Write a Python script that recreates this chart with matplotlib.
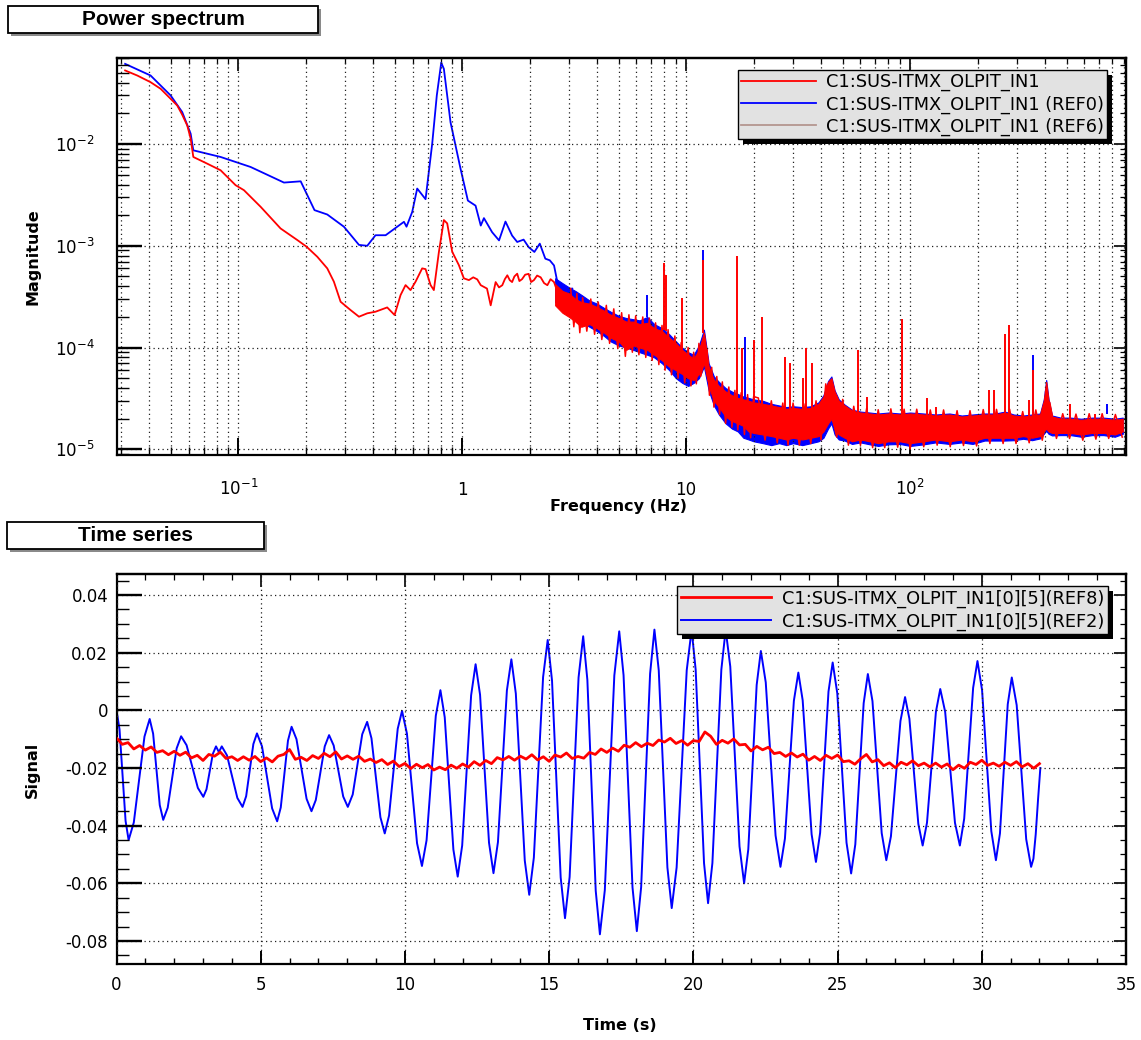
import numpy as np
import matplotlib
matplotlib.use('Agg')
import matplotlib.pyplot as plt
from matplotlib.lines import Line2D
from matplotlib.patches import Rectangle
from matplotlib.transforms import IdentityTransform
from matplotlib.ticker import (FixedLocator, LogLocator, MultipleLocator,
                               FuncFormatter, NullFormatter)

###############################################################################
# Style
###############################################################################
plt.rcParams['font.family'] = ['DejaVu Sans']
plt.rcParams['axes.unicode_minus'] = False

W, H = 1141, 1040
GRID_STYLE = dict(color='#202020', linestyle=(0, (1, 2.6)), linewidth=0.9)
REF6_COLOR = '#b49690'
LEGEND_BG = '#e2e2e2'
TITLE_FONT = ['Liberation Sans', 'DejaVu Sans']

###############################################################################
# Data: power spectrum
###############################################################################
# smooth low-frequency part of the live trace
RED_F = [0.03125, 0.0354, 0.0406, 0.0450, 0.0499, 0.0534, 0.0562, 0.0592, 0.0613, 0.0630,
         0.0727, 0.0834, 0.0973, 0.106, 0.126, 0.1545, 0.1834, 0.2018, 0.2254, 0.2497,
         0.2673, 0.2864, 0.317, 0.346, 0.3767, 0.410, 0.4624, 0.4988, 0.5305, 0.5585,
         0.5878, 0.619, 0.6625, 0.686, 0.7224, 0.747, 0.787, 0.828, 0.857, 0.9023,
         0.966, 1.017, 1.071, 1.12, 1.167, 1.21, 1.29, 1.34, 1.41, 1.46,
         1.51, 1.55, 1.59, 1.63, 1.67, 1.71, 1.76, 1.80, 1.85, 1.91,
         1.98, 2.03, 2.09, 2.16, 2.24, 2.32, 2.40, 2.48, 2.57, 2.63,
         2.70, 2.77, 2.84, 2.94, 3.05]
RED_MAG = [0.0528, 0.0471, 0.0405, 0.0349, 0.0278, 0.0239, 0.0194, 0.0152, 0.0113, 0.00746,
           0.00641, 0.00552, 0.00394, 0.00352, 0.00241, 0.00148, 0.00114, 0.00098, 0.00078, 0.0006,
           0.000444, 0.000282, 0.000234, 0.000201, 0.000217, 0.000225, 0.000248, 0.000209, 0.000328, 0.000411,
           0.000367, 0.000444, 0.0006, 0.00059, 0.000411, 0.000367, 0.000873, 0.00179, 0.00166, 0.000873,
           0.000646, 0.000479, 0.00046, 0.00049, 0.000468, 0.00041, 0.00038, 0.00026, 0.00044, 0.00039,
           0.00041, 0.00047, 0.000513, 0.00046, 0.00044, 0.00050, 0.000532, 0.00045, 0.00047, 0.00052,
           0.00053, 0.00044, 0.00046, 0.00051, 0.00049, 0.00043, 0.00041, 0.00047, 0.00044, 0.00038,
           0.000326, 0.00030, 0.000224, 0.0003, 0.00027]

# jagged excursions of the live trace just beyond the edges of its noise band
RED_NOISE_F = [3.05, 3.15, 3.25, 3.35, 3.45, 3.6, 3.75, 3.9, 4.05, 4.2,
               4.4, 4.55, 4.75, 4.95, 5.15, 5.35, 5.55, 5.75, 5.95, 6.15,
               6.4, 6.6, 6.85, 7.05, 7.3, 7.55, 7.8, 8.05, 8.3, 8.6,
               8.9, 9.2, 9.5, 9.85, 10.2, 10.5, 10.8, 11.1, 11.4, 11.6,
               12.4, 12.7, 13.0, 13.3, 13.7, 14.1, 14.5, 15.0, 15.5, 16.0,
               16.5, 17.0, 17.6, 18.2, 18.8, 19.4, 20.0, 21.0, 22.5, 24.0,
               25.5, 27.0, 28.5, 30.0, 32.0, 34.0, 36.0, 38.0, 40.0, 42.0,
               47.0, 50.0, 53.0, 56.0, 60.0, 64.0, 68.0, 72.0, 77.0, 82.0,
               88.0, 94.0, 100.0, 107.0, 115.0, 123.0, 132.0, 141.0, 151.0, 162.0,
               173.0, 185.0, 198.0, 212.0, 227.0, 243.0, 260.0, 278.0, 297.0, 318.0,
               340.0, 364.0, 389.0, 420.0, 450.0, 480.0, 515.0, 550.0, 590.0, 630.0,
               675.0, 720.0, 770.0, 825.0, 885.0]
RED_NOISE_MAG = [3.8e-4, 1.6e-4, 3.4e-4, 1.4e-4, 3.1e-4, 1.45e-4, 3.0e-4, 1.35e-4, 2.8e-4, 1.2e-4,
                 2.6e-4, 1.1e-4, 2.4e-4, 0.98e-4, 2.2e-4, 0.82e-4, 2.1e-4, 0.9e-4, 2.05e-4, 0.85e-4,
                 2.0e-4, 0.8e-4, 1.95e-4, 0.75e-4, 1.75e-4, 0.68e-4, 1.65e-4, 0.6e-4, 1.5e-4, 0.54e-4,
                 1.3e-4, 0.5e-4, 1.12e-4, 0.45e-4, 1.0e-4, 0.42e-4, 0.9e-4, 0.44e-4, 1.1e-4, 0.52e-4,
                 0.95e-4, 0.34e-4, 0.64e-4, 0.26e-4, 0.52e-4, 0.22e-4, 0.46e-4, 0.18e-4, 0.41e-4, 0.165e-4,
                 0.38e-4, 0.155e-4, 0.36e-4, 0.14e-4, 0.345e-4, 0.13e-4, 3.3e-5, 3.2e-5, 1.23e-5, 3.0e-5,
                 1.16e-5, 2.85e-5, 1.1e-5, 2.85e-5, 1.1e-5, 2.8e-5, 1.14e-5, 3.0e-5, 1.24e-5, 4.4e-5,
                 1.32e-5, 3.1e-5, 1.1e-5, 2.65e-5, 1.1e-5, 2.55e-5, 1.04e-5, 2.45e-5, 1.04e-5, 2.5e-5,
                 1.05e-5, 2.48e-5, 1.01e-5, 2.48e-5, 1.06e-5, 2.44e-5, 1.1e-5, 2.44e-5, 1.06e-5, 2.4e-5,
                 1.09e-5, 2.4e-5, 1.08e-5, 2.46e-5, 1.14e-5, 2.47e-5, 1.14e-5, 2.48e-5, 1.14e-5, 2.35e-5,
                 1.16e-5, 2.44e-5, 1.23e-5, 2.9e-5, 1.28e-5, 2.24e-5, 1.28e-5, 2.22e-5, 1.23e-5, 2.24e-5,
                 1.26e-5, 2.24e-5, 1.28e-5, 2.2e-5, 1.32e-5]

# smooth low-frequency part of REF0
BLUE_F = [0.03125, 0.0406, 0.0499, 0.0562, 0.0613, 0.0630, 0.0834, 0.1135, 0.160, 0.190,
          0.219, 0.2497, 0.2963, 0.346, 0.3767, 0.410, 0.455, 0.5128, 0.5494, 0.564,
          0.598, 0.6295, 0.686, 0.7345, 0.77, 0.806, 0.828, 0.887, 0.983, 1.06,
          1.147, 1.21, 1.25, 1.36, 1.46, 1.56, 1.67, 1.76, 1.88, 1.98,
          2.10, 2.22, 2.35, 2.46, 2.57, 2.66, 2.80, 2.94, 3.10]
BLUE_MAG = [0.0613, 0.0471, 0.030, 0.0206, 0.01263, 0.00867, 0.00746, 0.00595, 0.00418, 0.0043,
            0.00224, 0.00203, 0.00154, 0.00102, 0.0010, 0.00127, 0.00127, 0.00154, 0.00172, 0.00154,
            0.00215, 0.00365, 0.00287, 0.01008, 0.030, 0.063, 0.0548, 0.0163, 0.00571, 0.00278,
            0.00248, 0.00158, 0.00187, 0.00136, 0.00113, 0.00173, 0.00126, 0.00109, 0.00115, 0.00097,
            0.00087, 0.00105, 0.000747, 0.00072, 0.000641, 0.00044, 0.00038, 0.00028, 0.00038]

# noisy high-frequency part: lower / upper edge of the noise band
BAND_F = [2.6, 2.8, 3.0, 3.2, 3.4, 3.7, 4.0, 4.3, 4.6, 5.0,
          5.4, 5.8, 6.2, 6.7, 7.2, 7.8, 8.4, 9.0, 9.6, 10.2,
          10.8, 11.4, 12.0, 12.6, 13.3, 14.0, 15.0, 16.0, 17.0, 18.0,
          19.0, 20.0, 22.0, 24.0, 26.0, 28.0, 30.0, 33.0, 36.0, 39.0,
          41.0, 43.0, 44.5, 46.0, 48.0, 51.0, 55.0, 60.0, 66.0, 72.0,
          80.0, 90.0, 100.0, 115.0, 130.0, 150.0, 170.0, 190.0, 215.0, 240.0,
          265.0, 290.0, 320.0, 350.0, 380.0, 395.0, 405.0, 415.0, 430.0, 470.0,
          520.0, 580.0, 650.0, 730.0, 820.0, 890.0]
RED_LO = [2.6e-4, 2.2e-4, 2.0e-4, 1.8e-4, 1.6e-4, 1.7e-4, 1.55e-4, 1.4e-4, 1.25e-4, 1.15e-4,
          0.95e-4, 1.05e-4, 1.0e-4, 0.95e-4, 0.85e-4, 0.75e-4, 0.65e-4, 0.6e-4, 0.55e-4, 0.5e-4,
          0.48e-4, 0.55e-4, 0.7e-4, 0.42e-4, 0.3e-4, 0.26e-4, 0.21e-4, 0.19e-4, 0.18e-4, 0.17e-4,
          0.15e-4, 0.145e-4, 0.14e-4, 0.135e-4, 0.13e-4, 0.125e-4, 0.13e-4, 0.125e-4, 0.13e-4, 0.135e-4,
          0.15e-4, 0.18e-4, 0.2e-4, 0.16e-4, 0.14e-4, 0.13e-4, 0.12e-4, 0.125e-4, 0.12e-4, 0.115e-4,
          0.12e-4, 0.12e-4, 0.115e-4, 0.12e-4, 0.125e-4, 0.12e-4, 0.125e-4, 0.12e-4, 0.13e-4, 0.13e-4,
          0.13e-4, 0.13e-4, 0.135e-4, 0.13e-4, 0.135e-4, 0.15e-4, 0.16e-4, 0.15e-4, 0.145e-4, 0.145e-4,
          0.145e-4, 0.14e-4, 0.145e-4, 0.145e-4, 0.14e-4, 0.15e-4]
RED_HI = [4.2e-4, 3.6e-4, 3.4e-4, 3.0e-4, 2.8e-4, 2.7e-4, 2.5e-4, 2.3e-4, 2.1e-4, 1.95e-4,
          1.8e-4, 1.8e-4, 1.7e-4, 1.75e-4, 1.55e-4, 1.45e-4, 1.25e-4, 1.1e-4, 0.95e-4, 0.85e-4,
          0.78e-4, 0.95e-4, 1.4e-4, 0.65e-4, 0.48e-4, 0.42e-4, 0.37e-4, 0.34e-4, 0.32e-4, 0.31e-4,
          0.3e-4, 0.29e-4, 0.28e-4, 0.27e-4, 0.26e-4, 0.25e-4, 0.255e-4, 0.25e-4, 0.255e-4, 0.28e-4,
          0.33e-4, 0.46e-4, 0.5e-4, 0.37e-4, 0.3e-4, 0.27e-4, 0.24e-4, 0.23e-4, 0.225e-4, 0.22e-4,
          0.225e-4, 0.22e-4, 0.225e-4, 0.22e-4, 0.215e-4, 0.22e-4, 0.21e-4, 0.215e-4, 0.22e-4, 0.22e-4,
          0.23e-4, 0.215e-4, 0.21e-4, 0.215e-4, 0.22e-4, 0.3e-4, 0.46e-4, 0.3e-4, 0.21e-4, 0.2e-4,
          0.2e-4, 0.195e-4, 0.2e-4, 0.2e-4, 0.195e-4, 0.2e-4]
BLUE_LO = [2.8e-4, 2.5e-4, 2.2e-4, 2.0e-4, 1.8e-4, 1.6e-4, 1.45e-4, 1.3e-4, 1.15e-4, 1.05e-4,
           1.0e-4, 0.95e-4, 0.9e-4, 0.85e-4, 0.8e-4, 0.7e-4, 0.6e-4, 0.5e-4, 0.45e-4, 0.42e-4,
           0.45e-4, 0.5e-4, 0.65e-4, 0.38e-4, 0.27e-4, 0.22e-4, 0.18e-4, 0.16e-4, 0.15e-4, 0.13e-4,
           0.125e-4, 0.12e-4, 0.115e-4, 0.11e-4, 0.115e-4, 0.11e-4, 0.115e-4, 0.11e-4, 0.115e-4, 0.12e-4,
           0.13e-4, 0.16e-4, 0.18e-4, 0.14e-4, 0.125e-4, 0.122e-4, 0.113e-4, 0.117e-4, 0.112e-4, 0.108e-4,
           0.112e-4, 0.113e-4, 0.108e-4, 0.112e-4, 0.117e-4, 0.113e-4, 0.117e-4, 0.113e-4, 0.122e-4, 0.122e-4,
           0.122e-4, 0.123e-4, 0.127e-4, 0.123e-4, 0.128e-4, 0.142e-4, 0.152e-4, 0.142e-4, 0.137e-4, 0.138e-4,
           0.138e-4, 0.133e-4, 0.138e-4, 0.138e-4, 0.133e-4, 0.142e-4]
BLUE_HI = [4.8e-4, 4.3e-4, 3.9e-4, 3.6e-4, 3.3e-4, 2.9e-4, 2.7e-4, 2.45e-4, 2.25e-4, 2.05e-4,
           1.95e-4, 1.9e-4, 1.85e-4, 2.0e-4, 1.7e-4, 1.55e-4, 1.35e-4, 1.15e-4, 1.0e-4, 0.9e-4,
           0.85e-4, 1.05e-4, 1.5e-4, 0.7e-4, 0.52e-4, 0.46e-4, 0.4e-4, 0.37e-4, 0.35e-4, 0.33e-4,
           0.32e-4, 0.31e-4, 0.3e-4, 0.28e-4, 0.27e-4, 0.26e-4, 0.265e-4, 0.26e-4, 0.265e-4, 0.29e-4,
           0.34e-4, 0.47e-4, 0.52e-4, 0.38e-4, 0.31e-4, 0.275e-4, 0.245e-4, 0.235e-4, 0.23e-4, 0.225e-4,
           0.23e-4, 0.225e-4, 0.23e-4, 0.225e-4, 0.22e-4, 0.225e-4, 0.215e-4, 0.22e-4, 0.225e-4, 0.225e-4,
           0.235e-4, 0.22e-4, 0.215e-4, 0.22e-4, 0.225e-4, 0.31e-4, 0.48e-4, 0.31e-4, 0.215e-4, 0.205e-4,
           0.205e-4, 0.2e-4, 0.205e-4, 0.205e-4, 0.2e-4, 0.205e-4]

# narrow lines sticking out of the noise band
RED_SPIKE_F = [7.95, 8.15, 9.6, 11.85, 16.9, 17.8, 20.0, 21.8, 27.6, 29.0,
               33.2, 34.4, 36.5, 58.3, 64.3, 92.1, 119.0, 130.0, 224.0, 236.0,
               266.0, 275.0, 338.0, 354.0, 519.0, 672.0]
RED_SPIKE_TOP = [6.7e-4, 5.2e-4, 3.1e-4, 7.2e-4, 8.0e-4, 1.0e-4, 1.18e-4, 2.0e-4, 8.1e-5, 7.0e-5,
                 5.0e-5, 1.0e-4, 7.0e-5, 9.4e-5, 3.3e-5, 1.92e-4, 3.2e-5, 2.6e-5, 3.8e-5, 3.8e-5,
                 1.37e-4, 1.65e-4, 3.05e-5, 6.0e-5, 2.8e-5, 2.2e-5]
RED_SPIKE_BASE = [1.5e-4, 1.45e-4, 0.95e-4, 1.4e-4, 3.2e-5, 3.1e-5, 2.9e-5, 2.8e-5, 2.45e-5, 2.5e-5,
                  2.4e-5, 2.4e-5, 2.5e-5, 2.3e-5, 2.2e-5, 2.1e-5, 2.1e-5, 2.0e-5, 2.0e-5, 2.1e-5,
                  2.2e-5, 2.2e-5, 2.0e-5, 2.1e-5, 2.0e-5, 2.0e-5]
BLUE_SPIKE_F = [6.7, 11.85, 18.3, 354.0, 757.0]
BLUE_SPIKE_TOP = [3.3e-4, 9.0e-4, 1.27e-4, 8.4e-5, 2.8e-5]
BLUE_SPIKE_BASE = [2.0e-4, 1.5e-4, 3.3e-5, 2.1e-5, 2.2e-5]

X_MAJOR = [0.1, 1.0, 10.0, 100.0]
X_MAJOR_LABELS = ['$10^{-1}$', '1', '10', '$10^{2}$']

SPEC_LABELS = ['C1:SUS-ITMX_OLPIT_IN1', 'C1:SUS-ITMX_OLPIT_IN1 (REF0)',
               'C1:SUS-ITMX_OLPIT_IN1 (REF6)']

###############################################################################
# Data: time series
###############################################################################
BLUE_T = [0.00, 0.105, 0.21, 0.315, 0.42, 0.60, 0.785, 0.97,
          1.15, 1.27, 1.385, 1.50, 1.62, 1.775, 1.93, 2.085,
          2.24, 2.43, 2.625, 2.82, 3.01, 3.12, 3.23, 3.34,
          3.45, 3.55, 3.65, 3.83, 4.01, 4.19, 4.37, 4.495, 4.62, 4.745,
          4.87, 5.045, 5.22, 5.395, 5.57, 5.695, 5.82, 5.945,
          6.07, 6.24, 6.415, 6.59, 6.76, 6.91, 7.065, 7.22,
          7.37, 7.53, 7.695, 7.86, 8.02, 8.19, 8.355, 8.52,
          8.69, 8.84, 8.995, 9.15, 9.30, 9.45, 9.60, 9.75,
          9.90, 10.07, 10.245, 10.42, 10.59, 10.75, 10.91, 11.07,
          11.23, 11.38, 11.53, 11.68, 11.83, 11.985, 12.14, 12.295,
          12.45, 12.605, 12.76, 12.915, 13.07, 13.225, 13.38, 13.535,
          13.69, 13.845, 14.00, 14.155, 14.31, 14.47, 14.63, 14.79,
          14.95, 15.10, 15.25, 15.40, 15.55, 15.71, 15.865, 16.02,
          16.18, 16.325, 16.47, 16.615, 16.76, 16.93, 17.095, 17.26,
          17.43, 17.58, 17.735, 17.89, 18.04, 18.19, 18.345, 18.50,
          18.65, 18.80, 18.95, 19.10, 19.25, 19.42, 19.595, 19.77,
          19.94, 20.08, 20.225, 20.37, 20.51, 20.66, 20.815, 20.97,
          21.12, 21.28, 21.44, 21.60, 21.76, 21.905, 22.05, 22.195,
          22.34, 22.51, 22.68, 22.85, 23.02, 23.175, 23.33, 23.485,
          23.64, 23.79, 23.945, 24.10, 24.25, 24.395, 24.54, 24.685,
          24.83, 24.99, 25.15, 25.31, 25.47, 25.615, 25.76, 25.905,
          26.05, 26.21, 26.37, 26.53, 26.69, 26.85, 27.015, 27.18,
          27.34, 27.49, 27.645, 27.80, 27.95, 28.10, 28.255, 28.41,
          28.56, 28.73, 28.90, 29.07, 29.24, 29.39, 29.545, 29.70,
          29.85, 30.01, 30.17, 30.33, 30.49, 30.63, 30.765, 30.90,
          31.04, 31.21, 31.375, 31.54, 31.71, 31.79, 31.87, 31.95,
          32.03]
BLUE_SIG = [0.0000, -0.0066, -0.0225, -0.0384, -0.0450, -0.0389, -0.0240, -0.0091,
            -0.0030, -0.0081, -0.0205, -0.0329, -0.0380, -0.0338, -0.0235, -0.0132,
            -0.0090, -0.0121, -0.0195, -0.0269, -0.0300, -0.0274, -0.0213, -0.0151,
            -0.0125, -0.0145, -0.0125, -0.0156, -0.0230, -0.0304, -0.0335, -0.0298, -0.0208, -0.0117,
            -0.0080, -0.0125, -0.0233, -0.0340, -0.0385, -0.0337, -0.0221, -0.0105,
            -0.0057, -0.0100, -0.0204, -0.0307, -0.0350, -0.0311, -0.0218, -0.0125,
            -0.0086, -0.0122, -0.0211, -0.0299, -0.0335, -0.0292, -0.0188, -0.0083,
            -0.0040, -0.0097, -0.0234, -0.0371, -0.0427, -0.0365, -0.0215, -0.0064,
            -0.0002, -0.0081, -0.0271, -0.0461, -0.0540, -0.0451, -0.0235, -0.0019,
            0.0070, -0.0024, -0.0254, -0.0483, -0.0577, -0.0469, -0.0209, 0.0052,
            0.0160, 0.0054, -0.0203, -0.0459, -0.0565, -0.0457, -0.0194, 0.0069,
            0.0177, 0.0058, -0.0232, -0.0521, -0.0640, -0.0511, -0.0198, 0.0115,
            0.0244, 0.0103, -0.0239, -0.0580, -0.0721, -0.0578, -0.0232, 0.0114,
            0.0257, 0.0106, -0.0260, -0.0626, -0.0777, -0.0624, -0.0252, 0.0121,
            0.0274, 0.0122, -0.0246, -0.0614, -0.0766, -0.0613, -0.0243, 0.0127,
            0.0280, 0.0139, -0.0203, -0.0545, -0.0686, -0.0545, -0.0203, 0.0139,
            0.0280, 0.0141, -0.0195, -0.0530, -0.0669, -0.0530, -0.0195, 0.0141,
            0.0280, 0.0152, -0.0160, -0.0472, -0.0600, -0.0482, -0.0197, 0.0088,
            0.0206, 0.0097, -0.0169, -0.0434, -0.0543, -0.0445, -0.0206, 0.0033,
            0.0131, 0.0035, -0.0198, -0.0430, -0.0526, -0.0425, -0.0180, 0.0065,
            0.0166, 0.0059, -0.0200, -0.0459, -0.0566, -0.0465, -0.0220, 0.0025,
            0.0126, 0.0032, -0.0197, -0.0426, -0.0520, -0.0437, -0.0237, -0.0037,
            0.0046, -0.0029, -0.0212, -0.0394, -0.0469, -0.0390, -0.0198, -0.0005,
            0.0074, -0.0005, -0.0198, -0.0390, -0.0469, -0.0376, -0.0149, 0.0078,
            0.0171, 0.0070, -0.0175, -0.0419, -0.0520, -0.0427, -0.0203, 0.0021,
            0.0114, 0.0018, -0.0215, -0.0447, -0.0543, -0.0515, -0.0430, -0.0310,
            -0.0200]

# REF8 trace, sampled every 0.2 s from t = 0
RED_T0, RED_DT = 0.0, 0.2
RED_SIG = [-0.0096, -0.0118, -0.0112, -0.0134, -0.0122, -0.0138, -0.0127, -0.0146, -0.0140, -0.0154,
           -0.0142, -0.0156, -0.0145, -0.0165, -0.0156, -0.0174, -0.0153, -0.0159, -0.0145, -0.0167,
           -0.0161, -0.0174, -0.0161, -0.0173, -0.0160, -0.0178, -0.0165, -0.0179, -0.0159, -0.0153,
           -0.0136, -0.0170, -0.0163, -0.0174, -0.0157, -0.0167, -0.0149, -0.0161, -0.0144, -0.0169,
           -0.0158, -0.0170, -0.0159, -0.0177, -0.0169, -0.0181, -0.0171, -0.0188, -0.0176, -0.0195,
           -0.0184, -0.0202, -0.0187, -0.0199, -0.0188, -0.0207, -0.0197, -0.0206, -0.0190, -0.0201,
           -0.0186, -0.0197, -0.0178, -0.0191, -0.0174, -0.0185, -0.0164, -0.0172, -0.0160, -0.0173,
           -0.0159, -0.0169, -0.0154, -0.0172, -0.0161, -0.0177, -0.0155, -0.0162, -0.0148, -0.0167,
           -0.0160, -0.0166, -0.0146, -0.0153, -0.0134, -0.0146, -0.0131, -0.0142, -0.0121, -0.0128,
           -0.0112, -0.0126, -0.0114, -0.0122, -0.0103, -0.0110, -0.0097, -0.0115, -0.0105, -0.0121,
           -0.0105, -0.0108, -0.0075, -0.0090, -0.0118, -0.0104, -0.0114, -0.0099, -0.0120, -0.0118,
           -0.0141, -0.0125, -0.0137, -0.0128, -0.0150, -0.0146, -0.0160, -0.0148, -0.0162, -0.0152,
           -0.0173, -0.0160, -0.0174, -0.0156, -0.0167, -0.0155, -0.0178, -0.0175, -0.0187, -0.0168,
           -0.0153, -0.0179, -0.0171, -0.0192, -0.0182, -0.0199, -0.0180, -0.0189, -0.0175, -0.0192,
           -0.0183, -0.0196, -0.0183, -0.0197, -0.0186, -0.0206, -0.0190, -0.0201, -0.0180, -0.0188,
           -0.0173, -0.0191, -0.0183, -0.0194, -0.0180, -0.0191, -0.0178, -0.0196, -0.0185, -0.0201,
           -0.0185]

TS_LABELS = ['C1:SUS-ITMX_OLPIT_IN1[0][5](REF8)', 'C1:SUS-ITMX_OLPIT_IN1[0][5](REF2)']


###############################################################################
# Helpers
###############################################################################
def px_box(x0, y0, x1, y1):
    """pixel box (top-left origin) -> figure fraction [l, b, w, h]"""
    return [x0 / W, 1 - y1 / H, (x1 - x0) / W, (y1 - y0) / H]


def title_box(fig, x0, y0, x1, y1, text):
    l, b, w, h = px_box(x0, y0, x1, y1)
    fig.add_artist(Rectangle((l + 3 / W, b - 3 / H), w, h, transform=fig.transFigure,
                             facecolor='#8a8a8a', edgecolor='none'))
    fig.add_artist(Rectangle((l, b), w, h, transform=fig.transFigure,
                             facecolor='white', edgecolor='black', linewidth=1.3))
    fig.text(l + w / 2, b + h / 2, text, ha='center', va='center',
             fontsize=15, fontweight='bold', family=TITLE_FONT)


def root_frame(ax, major_len, minor_len, xmaj_len, xmin_len):
    for sp in ax.spines.values():
        sp.set_linewidth(1.6)
    ax.tick_params(which='both', direction='in', top=False, right=False)
    ax.tick_params(axis='y', which='major', length=major_len, width=1.7)
    ax.tick_params(axis='y', which='minor', length=minor_len, width=1.0)
    ax.tick_params(axis='x', which='major', length=xmaj_len, width=1.4)
    ax.tick_params(axis='x', which='minor', length=xmin_len, width=1.0)
    ax.tick_params(labelsize=12)
    ax.set_axisbelow(False)


def opposite_ticks(ax, xmaj=None, xmin=None, ymaj=None, ymin=None):
    top = ax.secondary_xaxis('top')
    right = ax.secondary_yaxis('right')
    for sec in (top, right):
        sec.tick_params(which='major', direction='in', length=9, width=1.2,
                        labeltop=False, labelbottom=False,
                        labelleft=False, labelright=False)
        sec.tick_params(which='minor', direction='in', length=4.5, width=0.9)
        for sp in sec.spines.values():
            sp.set_linewidth(1.6)
    if xmaj is not None:
        top.xaxis.set_major_locator(xmaj)
        top.xaxis.set_minor_locator(xmin)
        right.yaxis.set_major_locator(ymaj)
        right.yaxis.set_minor_locator(ymin)
    top.xaxis.set_major_formatter(NullFormatter())
    right.yaxis.set_major_formatter(NullFormatter())


def legend_shadow(fig, ax, leg, off=5):
    fig.canvas.draw()
    bb = leg.get_window_extent()
    ax.add_patch(Rectangle((bb.x0 + off, bb.y0 - off), bb.width, bb.height,
                           transform=IdentityTransform(), facecolor='black',
                           edgecolor='none', zorder=4.9, clip_on=False))


###############################################################################
# Figure
###############################################################################
fig = plt.figure(figsize=(W / 100, H / 100), dpi=100)
ax1 = fig.add_axes(px_box(116.5, 58, 1126, 455))
ax2 = fig.add_axes(px_box(116.5, 573.7, 1126, 964))

title_box(fig, 8, 6, 318, 33, 'Power spectrum')
title_box(fig, 7, 522, 264, 549, 'Time series')

# ---------------------------------------------------------------- spectrum
ax1.fill_between(BAND_F, BLUE_LO, BLUE_HI, color='blue', linewidth=0.8, zorder=2)
ax1.vlines(BLUE_SPIKE_F, BLUE_SPIKE_BASE, BLUE_SPIKE_TOP, color='blue', linewidth=1.4, zorder=2)
h_blue, = ax1.plot(BLUE_F, BLUE_MAG, color='blue', linewidth=1.3, zorder=2.1)
ax1.plot(RED_NOISE_F, RED_NOISE_MAG, color='red', linewidth=1.1, zorder=2.9)
ax1.fill_between(BAND_F, RED_LO, RED_HI, color='red', linewidth=0.8, zorder=3)
ax1.vlines(RED_SPIKE_F, RED_SPIKE_BASE, RED_SPIKE_TOP, color='red', linewidth=1.4, zorder=3)
h_red, = ax1.plot(RED_F, RED_MAG, color='red', linewidth=1.3, zorder=3.1)
h_ref6 = Line2D([], [], color=REF6_COLOR, linewidth=1.3)

ax1.set_xscale('log')
ax1.set_yscale('log')
ax1.set_xlim(0.0286, 920)
ax1.set_ylim(8.8e-6, 0.07)
ax1.xaxis.set_major_locator(FixedLocator(X_MAJOR))
ax1.xaxis.set_major_formatter(FuncFormatter(
    lambda v, pos: X_MAJOR_LABELS[X_MAJOR.index(v)] if v in X_MAJOR else ''))
ax1.xaxis.set_minor_locator(LogLocator(base=10, subs=(2, 3, 4, 5, 6, 7, 8, 9), numticks=50))
ax1.xaxis.set_minor_formatter(NullFormatter())
ax1.yaxis.set_major_locator(LogLocator(base=10, numticks=20))
ax1.yaxis.set_minor_locator(LogLocator(base=10, subs=(2, 3, 4, 5, 6, 7, 8, 9), numticks=50))
ax1.yaxis.set_minor_formatter(NullFormatter())
root_frame(ax1, 18, 8.5, 12, 6)
ax1.tick_params(axis='y', which='major', pad=16)
ax1.tick_params(axis='x', which='major', pad=28.5)
for lab in ax1.get_xticklabels():
    lab.set_verticalalignment('baseline')
ax1.grid(which='major', axis='both', **GRID_STYLE)
ax1.grid(which='minor', axis='x', **GRID_STYLE)
opposite_ticks(ax1)

leg1 = ax1.legend([h_red, h_blue, h_ref6], SPEC_LABELS, loc='upper right',
                  bbox_to_anchor=(0.981, 0.970), borderaxespad=0, fontsize=12.8,
                  frameon=True, fancybox=False, facecolor=LEGEND_BG, edgecolor='black',
                  framealpha=1, handlelength=4.2, handletextpad=0.55,
                  labelspacing=0.22, borderpad=0.18)
leg1.get_frame().set_linewidth(1.0)
leg1.set_zorder(5)

fig.text(33 / W, 1 - 256.7 / H, 'Magnitude', rotation=90, ha='center', va='center',
         fontsize=11.5, fontweight='bold')
fig.text(618 / W, 1 - 506 / H, 'Frequency (Hz)', ha='center', va='center',
         fontsize=11.5, fontweight='bold')

# ---------------------------------------------------------------- time series
h_ts_blue, = ax2.plot(BLUE_T, BLUE_SIG, color='blue', linewidth=1.4, zorder=2,
                      solid_joinstyle='round')
red_t = RED_T0 + RED_DT * np.arange(len(RED_SIG))
h_ts_red, = ax2.plot(red_t, RED_SIG, color='red', linewidth=2.0, zorder=3)

ax2.set_xlim(0, 35)
ax2.set_ylim(-0.088, 0.0474)
ax2.xaxis.set_major_locator(MultipleLocator(5))
ax2.xaxis.set_minor_locator(MultipleLocator(1))
ax2.yaxis.set_major_locator(MultipleLocator(0.02))
ax2.yaxis.set_minor_locator(MultipleLocator(0.005))
ax2.yaxis.set_major_formatter(FuncFormatter(lambda v, pos: '0' if abs(v) < 1e-9 else '%g' % v))
ax2.xaxis.set_major_formatter(FuncFormatter(lambda v, pos: '%d' % round(v)))
root_frame(ax2, 18, 8.5, 9.5, 4.5)
ax2.tick_params(axis='y', which='major', pad=6)
ax2.tick_params(axis='x', which='major', pad=9)
ax2.grid(which='major', axis='both', **GRID_STYLE)
opposite_ticks(ax2, MultipleLocator(5), MultipleLocator(1),
               MultipleLocator(0.02), MultipleLocator(0.005))

leg2 = ax2.legend([h_ts_red, h_ts_blue], TS_LABELS, loc='upper right',
                  bbox_to_anchor=(0.982, 0.9685), borderaxespad=0, fontsize=12.8,
                  frameon=True, fancybox=False, facecolor=LEGEND_BG, edgecolor='black',
                  framealpha=1, handlelength=5.1, handletextpad=0.6,
                  labelspacing=0.25, borderpad=0.2)
leg2.get_frame().set_linewidth(1.0)
leg2.set_zorder(5)

fig.text(32 / W, 1 - 770 / H, 'Signal', rotation=90, ha='center', va='center',
         fontsize=11.5, fontweight='bold')
fig.text(620 / W, 1 - 1025 / H, 'Time (s)', ha='center', va='center',
         fontsize=11.5, fontweight='bold')

legend_shadow(fig, ax1, leg1)
legend_shadow(fig, ax2, leg2)

fig.savefig('out.png', dpi=100)
